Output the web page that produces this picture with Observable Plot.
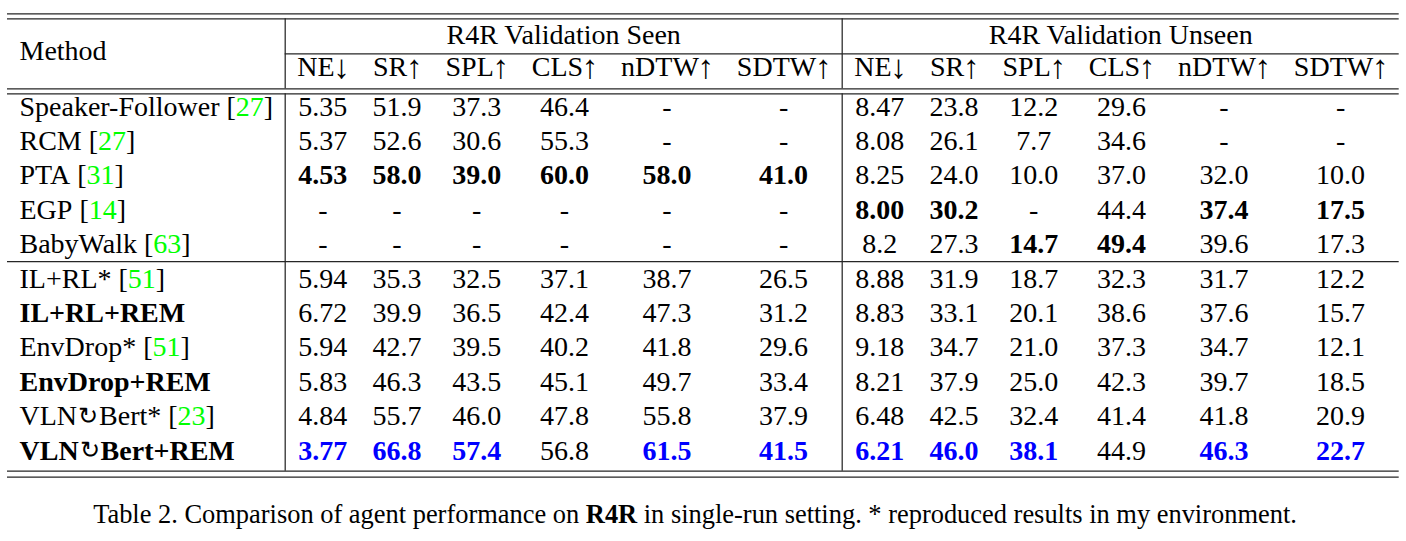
<!DOCTYPE html>
<html>
<head>
<meta charset="utf-8">
<script src="https://cdn.jsdelivr.net/npm/d3@7"></script>
<script src="https://cdn.jsdelivr.net/npm/@observablehq/plot@0.6"></script>
<style>
  body { margin: 0; background: #fff; }
  #cap { width: 1390px; text-align: center; font-family: "Liberation Serif", "Times New Roman", Times, serif; color: #000; white-space: nowrap; }
</style>
</head>
<body>
<div id="chart"></div>
<div id="cap"></div>
<script>
// ---------------- data ----------------
const groups = ["R4R Validation Seen", "R4R Validation Unseen"];
const metricNames = ["NE", "SR", "SPL", "CLS", "nDTW", "SDTW"];
const metricArrows = ["↓", "↑", "↑", "↑", "↑", "↑"];
const methods = ["Speaker-Follower", "RCM", "PTA", "EGP", "BabyWalk", "IL+RL*", "IL+RL+REM", "EnvDrop*", "EnvDrop+REM", "VLN↻Bert*", "VLN↻Bert+REM"];
const refs = ["27", "27", "31", "14", "63", "51", "", "51", "", "23", ""];
const ours = [false, false, false, false, false, false, true, false, true, false, true];
const seen = [
  ["5.35", "51.9", "37.3", "46.4", "-", "-"],
  ["5.37", "52.6", "30.6", "55.3", "-", "-"],
  ["4.53", "58.0", "39.0", "60.0", "58.0", "41.0"],
  ["-", "-", "-", "-", "-", "-"],
  ["-", "-", "-", "-", "-", "-"],
  ["5.94", "35.3", "32.5", "37.1", "38.7", "26.5"],
  ["6.72", "39.9", "36.5", "42.4", "47.3", "31.2"],
  ["5.94", "42.7", "39.5", "40.2", "41.8", "29.6"],
  ["5.83", "46.3", "43.5", "45.1", "49.7", "33.4"],
  ["4.84", "55.7", "46.0", "47.8", "55.8", "37.9"],
  ["3.77", "66.8", "57.4", "56.8", "61.5", "41.5"]
];
const unseen = [
  ["8.47", "23.8", "12.2", "29.6", "-", "-"],
  ["8.08", "26.1", "7.7", "34.6", "-", "-"],
  ["8.25", "24.0", "10.0", "37.0", "32.0", "10.0"],
  ["8.00", "30.2", "-", "44.4", "37.4", "17.5"],
  ["8.2", "27.3", "14.7", "49.4", "39.6", "17.3"],
  ["8.88", "31.9", "18.7", "32.3", "31.7", "12.2"],
  ["8.83", "33.1", "20.1", "38.6", "37.6", "15.7"],
  ["9.18", "34.7", "21.0", "37.3", "34.7", "12.1"],
  ["8.21", "37.9", "25.0", "42.3", "39.7", "18.5"],
  ["6.48", "42.5", "32.4", "41.4", "41.8", "20.9"],
  ["6.21", "46.0", "38.1", "44.9", "46.3", "22.7"]
];
// best-result markers: "b" = best among prior methods, "o" = best overall (ours), "-" = none
const seenBest = ["------", "------", "bbbbbb", "------", "------", "------", "------", "------", "------", "------", "ooo-oo"];
const unseenBest = ["------", "------", "------", "bb--bb", "--bb--", "------", "------", "------", "------", "------", "ooo-oo"];
const captionParts = [
  ["Table 2. Comparison of agent performance on ", false],
  ["R4R", true],
  [" in single-run setting. * reproduced results in my environment.", false]
];

// ---------------- layout ----------------
const FONT = '"Liberation Serif", "Times New Roman", Times, serif';
const SYM_FONT = '"Noto Sans CJK JP", "DejaVu Sans", sans-serif';
const FS = 28;
const ARROW_FS = 33;
const SYM_FS = 24;
const W = 1406, H = 494;
const SEP = 12;
const TABLE_LEFT = 7;
const ctx = document.createElement("canvas").getContext("2d");
function tw(s, bold, size = FS, family = FONT, weight) {
  ctx.font = `${weight ? weight + " " : bold ? "bold " : ""}${size}px ${family}`;
  return ctx.measureText(s).width;
}

const values = seen.map((r, i) => r.concat(unseen[i]));
const best = seenBest.map((r, i) => (r + unseenBest[i]).split(""));
const colNames = metricNames.concat(metricNames);
const colArrows = metricArrows.concat(metricArrows);
const nCols = colNames.length;
// header width measured at the body size (the drawn arrow is a bit larger, centred on that slot)
const headW = j => tw(colNames[j] + colArrows[j], false);

// method name runs (symbol ↻ drawn in a thin symbol font)
function methodRuns(i) {
  const runs = [];
  methods[i].split(/(↻)/).filter(s => s).forEach(s => {
    if (s === "↻") runs.push({t: s, kind: "sym"});
    else runs.push({t: s, kind: ours[i] ? "bold" : "plain"});
  });
  if (refs[i]) {
    runs.push({t: " [", kind: ours[i] ? "bold" : "plain"});
    runs.push({t: refs[i], kind: "green"});
    runs.push({t: "]", kind: "plain"});
  }
  return runs;
}
const runW = r => r.kind === "sym" ? tw(r.t, false, SYM_FS, SYM_FONT, 300) + 2 : tw(r.t, r.kind === "bold");

const methodW = d3.max(methods, (m, i) => d3.sum(methodRuns(i), runW)) + 2 * SEP;
const colW = d3.range(nCols).map(j =>
  d3.max([headW(j), ...values.map((r, i) => tw(r[j], best[i][j] !== "-"))]) + 2 * SEP);
const colStart = [];
{
  let x = TABLE_LEFT + methodW;
  for (let j = 0; j < nCols; j++) { colStart.push(x); x += colW[j]; }
}
const colCenter = colStart.map((x, j) => x + colW[j] / 2);
const vLine1 = TABLE_LEFT + methodW;
const vLine2 = colStart[metricNames.length];
const tableRight = colStart[nCols - 1] + colW[nCols - 1];

const Y_GROUP = 35, Y_SUB = 67, Y_METHOD = 51;
const ROW0 = 106.2, ROW_STEP = 34.4;
const rowY = i => ROW0 + i * ROW_STEP;

// horizontal rules
const hRules = [
  {y: 13.3, x1: TABLE_LEFT, x2: tableRight},
  {y: 18.3, x1: TABLE_LEFT, x2: tableRight},
  {y: 53.3, x1: vLine1, x2: tableRight},
  {y: 88.3, x1: TABLE_LEFT, x2: tableRight},
  {y: 93.3, x1: TABLE_LEFT, x2: tableRight},
  {y: (rowY(4) + rowY(5)) / 2, x1: TABLE_LEFT, x2: tableRight},
  {y: 470.7, x1: TABLE_LEFT, x2: tableRight},
  {y: 476.7, x1: TABLE_LEFT, x2: tableRight}
];
const vRules = [vLine1, vLine2].flatMap(x => [
  {x, y1: 18.3, y2: 88.3},
  {x, y1: 93.3, y2: 470.7}
]);

// header texts
const groupTexts = groups.map((g, k) => ({
  t: g,
  x: k === 0 ? (vLine1 + vLine2) / 2 : (vLine2 + tableRight) / 2,
  y: Y_GROUP
}));
const subNames = [], subArrows = [];
colNames.forEach((n, j) => {
  const x0 = colCenter[j] - headW(j) / 2;
  const nameW = tw(n, false);
  const slot = tw(colArrows[j], false);
  subNames.push({t: n, x: x0, y: Y_SUB});
  subArrows.push({t: colArrows[j], x: x0 + nameW + slot / 2, y: Y_SUB});
});

// method name pieces
const methodPieces = [];
methods.forEach((m, i) => {
  let x = TABLE_LEFT + SEP;
  methodRuns(i).forEach(r => {
    methodPieces.push({...r, x: r.kind === "sym" ? x + 1 : x, y: rowY(i)});
    x += runW(r);
  });
});

// value cells
const cells = values.flatMap((r, i) => r.map((t, j) => ({t, x: colCenter[j], y: rowY(i), mark: best[i][j]})));

const textOpts = {x: "x", y: "y", text: "t", fontFamily: FONT, fontSize: FS};
const startOpts = {...textOpts, textAnchor: "start"};

const chart = Plot.plot({
  width: W,
  height: H,
  margin: 0,
  x: {domain: [0, W], range: [0, W], axis: null},
  y: {domain: [0, H], range: [0, H], axis: null},
  style: {background: "white"},
  marks: [
    Plot.ruleY(hRules, {y: "y", x1: "x1", x2: "x2", stroke: "#262626", strokeWidth: 1.25}),
    Plot.ruleX(vRules, {x: "x", y1: "y1", y2: "y2", stroke: "#262626", strokeWidth: 1.25}),
    Plot.text(groupTexts, {...textOpts, fill: "black"}),
    Plot.text(subNames, {...startOpts, fill: "black"}),
    Plot.text(subArrows, {...textOpts, fontSize: ARROW_FS, fill: "black"}),
    Plot.text([{t: "Method", x: TABLE_LEFT + SEP, y: Y_METHOD}], {...startOpts, fill: "black"}),
    Plot.text(methodPieces.filter(d => d.kind === "plain"), {...startOpts, fill: "black"}),
    Plot.text(methodPieces.filter(d => d.kind === "bold"), {...startOpts, fill: "black", fontWeight: "bold"}),
    Plot.text(methodPieces.filter(d => d.kind === "green"), {...startOpts, fill: "#00ff00"}),
    Plot.text(methodPieces.filter(d => d.kind === "sym"), {...startOpts, fontFamily: SYM_FONT, fontSize: SYM_FS, fontWeight: 300, fill: "black"}),
    Plot.text(cells.filter(d => d.mark === "-"), {...textOpts, fill: "black"}),
    Plot.text(cells.filter(d => d.mark === "b"), {...textOpts, fill: "black", fontWeight: "bold"}),
    Plot.text(cells.filter(d => d.mark === "o"), {...textOpts, fill: "#0000ff", fontWeight: "bold"})
  ]
});
document.getElementById("chart").appendChild(chart);

// caption, fitted to the reference line length
const CAP_TARGET = 1204;
const capW28 = d3.sum(captionParts, ([s, b]) => tw(s, b, 28));
const capSize = 28 * CAP_TARGET / capW28;
const cap = document.getElementById("cap");
cap.style.fontSize = capSize.toFixed(2) + "px";
cap.style.lineHeight = "40px";
captionParts.forEach(([s, b]) => {
  const span = document.createElement(b ? "b" : "span");
  span.textContent = s;
  cap.appendChild(span);
});
</script>
</body>
</html>
